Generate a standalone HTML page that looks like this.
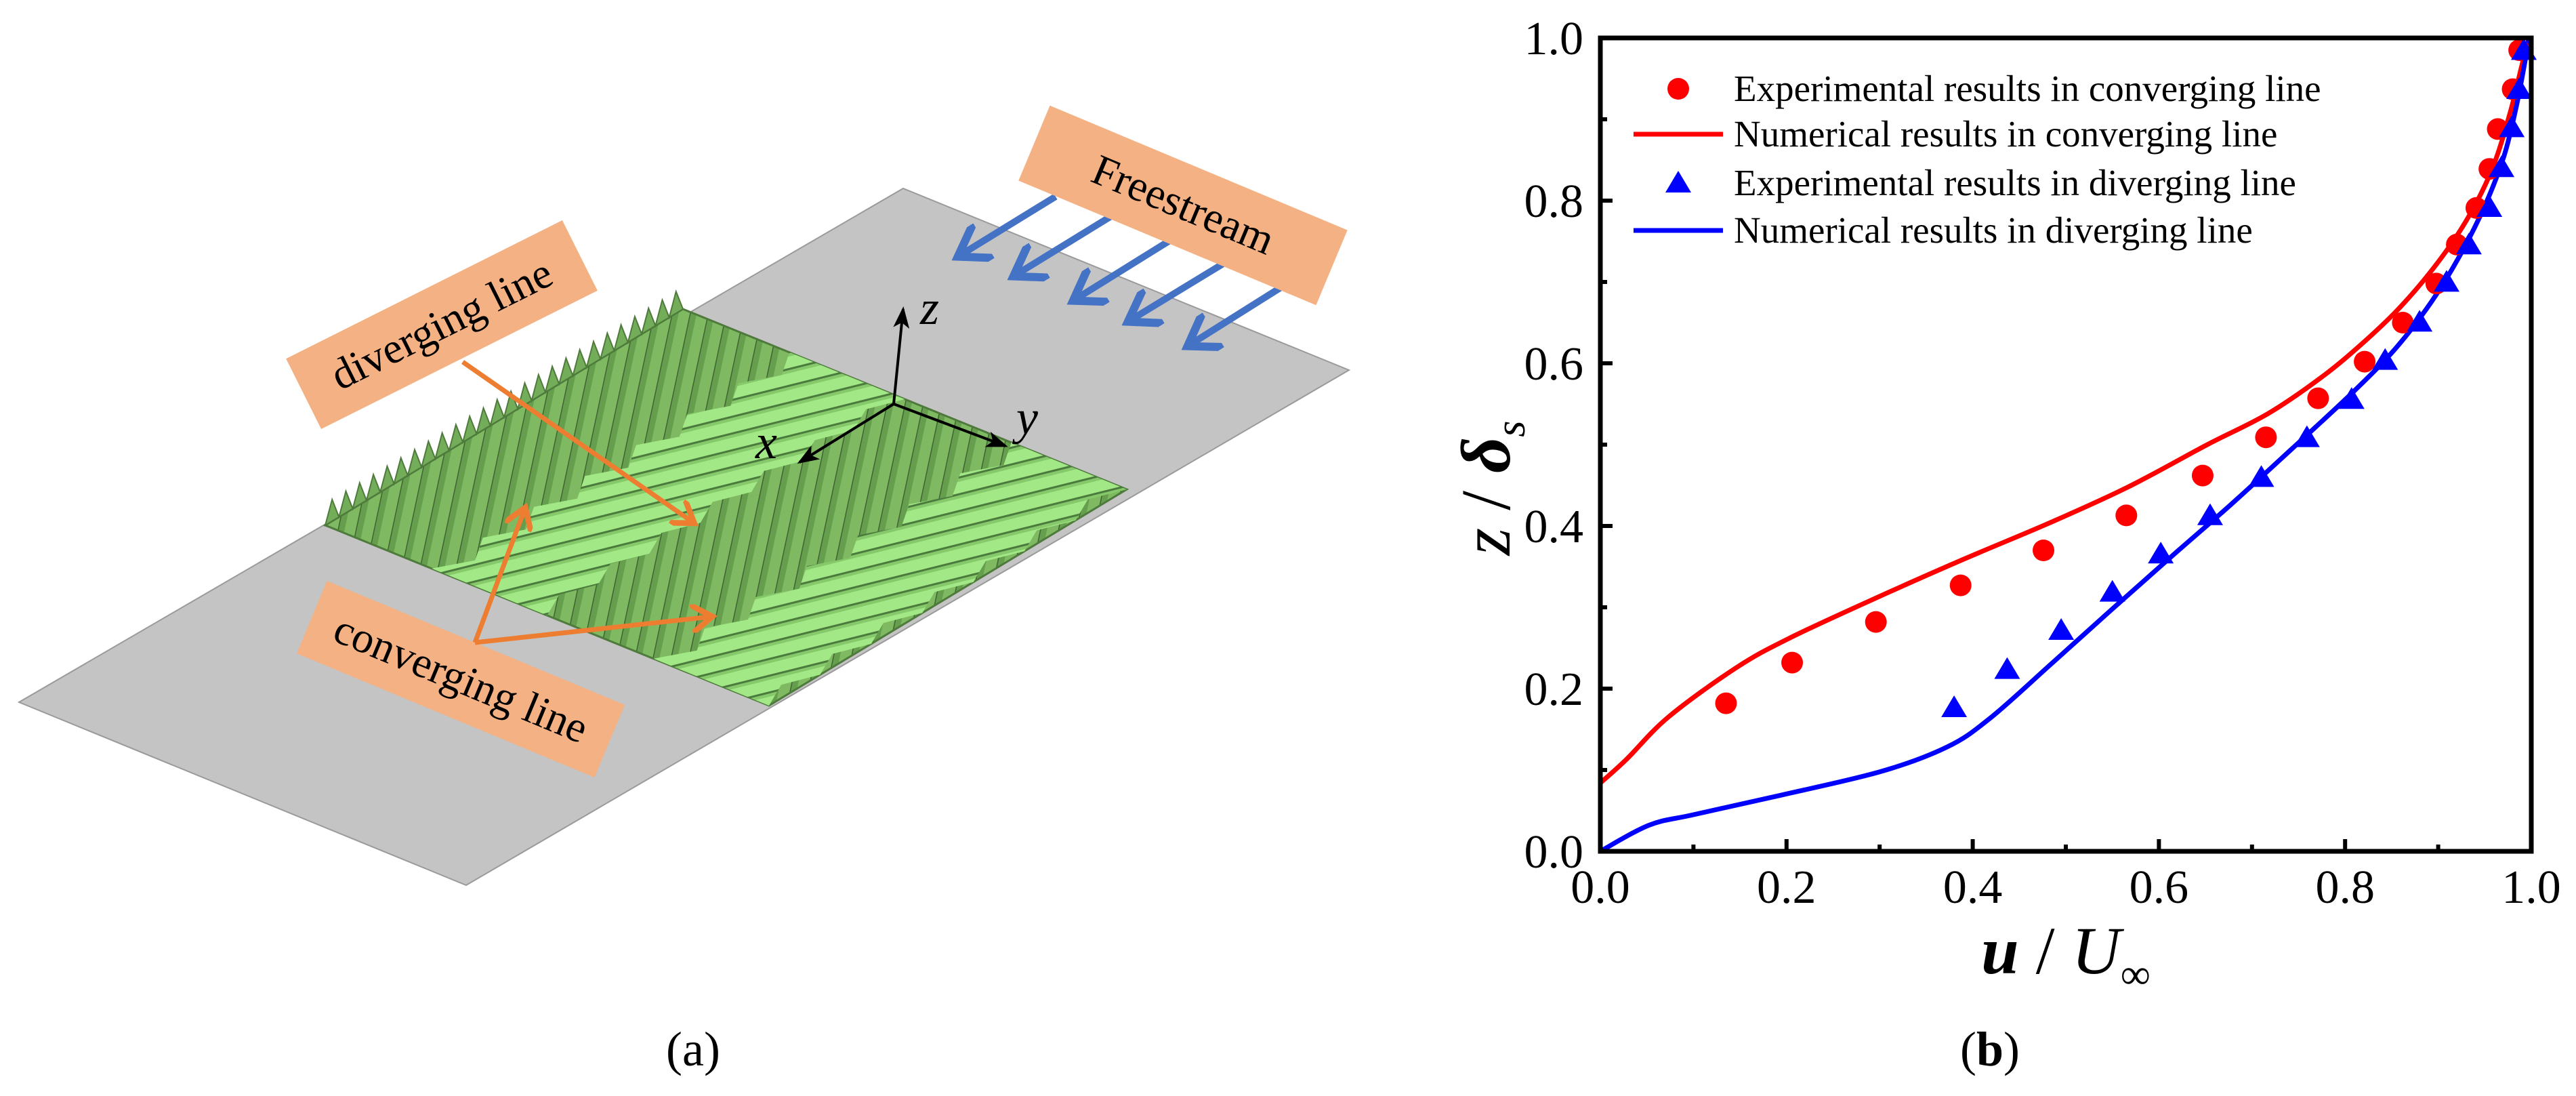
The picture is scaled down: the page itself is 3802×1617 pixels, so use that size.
<!DOCTYPE html>
<html><head><meta charset="utf-8"><style>
html,body{margin:0;padding:0;background:#fff;}
svg{display:block;font-family:"Liberation Serif",serif;}
</style></head><body>
<svg id="fig" width="3802" height="1617" viewBox="0 0 3802 1617">
<defs>
  <pattern id="darkRidges" patternUnits="userSpaceOnUse" width="26" height="40" patternTransform="rotate(12)">
    <rect width="26" height="40" fill="#7fba63"/>
    <rect width="10" height="40" fill="#659e4d"/>
    <line x1="0" y1="0" x2="0" y2="40" stroke="#3f6433" stroke-width="3"/>
  </pattern>
  <pattern id="lightStripes" patternUnits="userSpaceOnUse" width="40" height="24" patternTransform="rotate(-14)">
    <rect width="40" height="24" fill="#a3e886"/>
    <rect width="40" height="6" y="18" fill="#86c96b"/>
    <line x1="0" y1="18" x2="40" y2="18" stroke="#4a7a3c" stroke-width="3"/>
  </pattern>
  <marker id="arrO" markerWidth="6" markerHeight="6" refX="4" refY="3" orient="auto" markerUnits="strokeWidth"><path d="M0,0 L4.5,3 L0,6" fill="none" stroke="#ed7d31" stroke-width="1.2"/></marker>
  <marker id="arrB" markerWidth="6" markerHeight="6" refX="4" refY="3" orient="auto" markerUnits="strokeWidth"><path d="M0,0 L4.5,3 L0,6" fill="none" stroke="#4472c4" stroke-width="1.2"/></marker>
  <marker id="arrK" markerWidth="8" markerHeight="6" refX="7" refY="3" orient="auto" markerUnits="strokeWidth"><path d="M0,0 L8,3 L0,6 L2,3 Z" fill="#000"/></marker>
</defs>

<g id="panel-a">
  <polygon points="28,1036 688,1306 1991,546 1333,278" fill="#c4c4c4" stroke="#9a9a9a" stroke-width="2"/>
  <g id="band"></g>
  <g>
    <line x1="1319" y1="596" x2="1333" y2="456" stroke="#000" stroke-width="4" marker-end="url(#arrK)"/>
    <line x1="1319" y1="596" x2="1180" y2="682" stroke="#000" stroke-width="4" marker-end="url(#arrK)"/>
    <line x1="1319" y1="596" x2="1484" y2="658" stroke="#000" stroke-width="4" marker-end="url(#arrK)"/>
    <text x="1358" y="478" font-size="72" font-style="italic">z</text>
    <text x="1115" y="676" font-size="72" font-style="italic">x</text>
    <text x="1500" y="640" font-size="72" font-style="italic">y</text>
  </g>
  <g stroke="#4472c4" stroke-width="10" fill="none">
    <line x1="1558" y1="290" x2="1418" y2="376" marker-end="url(#arrB)"/>
    <line x1="1640" y1="319" x2="1500" y2="405" marker-end="url(#arrB)"/>
    <line x1="1728" y1="354" x2="1588" y2="441" marker-end="url(#arrB)"/>
    <line x1="1812" y1="385" x2="1669" y2="472" marker-end="url(#arrB)"/>
    <line x1="1897" y1="420" x2="1757" y2="508" marker-end="url(#arrB)"/>
  </g>
  <g transform="translate(1746,303) rotate(22.7)">
    <rect x="-238" y="-60" width="476" height="120" fill="#f4b183"/>
    <text x="0" y="20" font-size="64" text-anchor="middle">Freestream</text>
  </g>
  <g transform="translate(652,479) rotate(-26.6)">
    <rect x="-228" y="-58" width="456" height="116" fill="#f4b183"/>
    <text x="0" y="20" font-size="64" text-anchor="middle">diverging line</text>
  </g>
  <g transform="translate(680,1002) rotate(22.6)">
    <rect x="-238" y="-58" width="476" height="116" fill="#f4b183"/>
    <text x="0" y="20" font-size="64" text-anchor="middle">converging line</text>
  </g>
  <g stroke="#ed7d31" stroke-width="7" fill="none">
    <line x1="683" y1="534" x2="1022" y2="770" marker-end="url(#arrO)"/>
    <line x1="701" y1="948" x2="774" y2="752" marker-end="url(#arrO)"/>
    <line x1="701" y1="948" x2="1048" y2="910" marker-end="url(#arrO)"/>
  </g>
  <text x="1023" y="1572" font-size="72" text-anchor="middle">(a)</text>
</g>

<g id="chart">
  <g id="marks"></g>
  <rect x="2362" y="56" width="1374" height="1200" fill="none" stroke="#000" stroke-width="7"/>
  <g id="ticks"></g>
  <g font-size="55">
    <circle cx="2477" cy="131" r="16" fill="#ff0000"/>
    <text x="2559" y="149">Experimental results in converging line</text>
    <line x1="2411" y1="198" x2="2543" y2="198" stroke="#ff0000" stroke-width="7"/>
    <text x="2559" y="216">Numerical results in converging line</text>
    <polygon points="2477,252 2496,284 2458,284" fill="#0000ff"/>
    <text x="2559" y="288">Experimental results in diverging line</text>
    <line x1="2411" y1="340" x2="2543" y2="340" stroke="#0000ff" stroke-width="7"/>
    <text x="2559" y="358">Numerical results in diverging line</text>
  </g>
  <text x="3049" y="1436" font-size="100" text-anchor="middle"><tspan font-weight="bold" font-style="italic">u</tspan> / <tspan font-style="italic">U</tspan><tspan font-size="62" dy="22">∞</tspan></text>
  <text transform="translate(2228,720) rotate(-90)" font-size="104" text-anchor="middle"><tspan font-style="italic">z</tspan> / <tspan font-weight="bold" font-style="italic">δ</tspan><tspan font-size="62" font-style="italic" dy="22">s</tspan></text>
  <text x="2937" y="1572" font-size="72" text-anchor="middle">(<tspan font-weight="bold">b</tspan>)</text>
</g>
</svg>

<script>
const xTicks = [0.0, 0.2, 0.4, 0.6, 0.8, 1.0];
const yTicks = [0.0, 0.2, 0.4, 0.6, 0.8, 1.0];
const tickLabels = ["0.0", "0.2", "0.4", "0.6", "0.8", "1.0"];
const expConvU = [0.135,0.206,0.296,0.387,0.476,0.565,0.647,0.715,0.771,0.821,0.862,0.898,0.920,0.941,0.955,0.964,0.980,0.987];
const expConvZ = [0.182,0.232,0.282,0.327,0.370,0.413,0.462,0.509,0.557,0.602,0.650,0.698,0.746,0.791,0.839,0.888,0.937,0.985];
const expDivU = [0.380,0.437,0.495,0.550,0.602,0.655,0.710,0.759,0.807,0.843,0.880,0.909,0.933,0.955,0.968,0.979,0.987,0.992];
const expDivZ = [0.175,0.222,0.270,0.317,0.364,0.411,0.458,0.507,0.554,0.602,0.649,0.698,0.744,0.790,0.839,0.888,0.935,0.983];
const numConvU = [0.0,0.028,0.073,0.145,0.203,0.301,0.392,0.483,0.567,0.652,0.717,0.776,0.821,0.860,0.899,0.932,0.958,0.977,0.990,0.997];
const numConvZ = [0.084,0.113,0.165,0.225,0.262,0.314,0.360,0.404,0.448,0.500,0.538,0.584,0.627,0.670,0.723,0.779,0.839,0.907,0.967,0.997];
const numDivU = [0.0,0.052,0.100,0.190,0.301,0.372,0.418,0.483,0.548,0.613,0.678,0.743,0.808,0.854,0.893,0.925,0.951,0.971,0.984,0.994,0.997];
const numDivZ = [0.0,0.032,0.045,0.068,0.098,0.128,0.163,0.229,0.296,0.362,0.427,0.495,0.564,0.618,0.676,0.736,0.796,0.856,0.916,0.976,0.997];

const NS = "http://www.w3.org/2000/svg";
const X0 = 2362, X1 = 3736, Y0 = 1256, Y1 = 56;
function sx(v){ return X0 + v * (X1 - X0); }
function sy(v){ return Y0 - v * (Y0 - Y1); }
function mk(tag, attrs, parent){
  const e = document.createElementNS(NS, tag);
  for (const k in attrs) e.setAttribute(k, attrs[k]);
  parent.appendChild(e);
  return e;
}
const marks = document.getElementById('marks');
const ticks = document.getElementById('ticks');

function drawLine(us, zs, color, name){
  const p = us.map((u,i)=>[sx(u), sy(zs[i])]);
  let d = "M" + p[0][0].toFixed(1) + "," + p[0][1].toFixed(1);
  for (let i=0;i<p.length-1;i++){
    const p0 = p[Math.max(0,i-1)], p1 = p[i], p2 = p[i+1], p3 = p[Math.min(p.length-1,i+2)];
    const c1 = [p1[0]+(p2[0]-p0[0])/6, p1[1]+(p2[1]-p0[1])/6];
    const c2 = [p2[0]-(p3[0]-p1[0])/6, p2[1]-(p3[1]-p1[1])/6];
    d += "C"+c1[0].toFixed(1)+","+c1[1].toFixed(1)+" "+c2[0].toFixed(1)+","+c2[1].toFixed(1)+" "+p2[0].toFixed(1)+","+p2[1].toFixed(1);
  }
  const el = mk('path', {d:d, fill:'none', stroke:color, 'stroke-width':7, 'stroke-linejoin':'round'}, marks);
  
  
}
drawLine(numConvU, numConvZ, '#ff0000', 'numerical-converging-line');
drawLine(numDivU, numDivZ, '#0000ff', 'numerical-diverging-line');

expConvU.forEach((u,i)=>{
  const c = mk('circle', {cx:sx(u), cy:sy(expConvZ[i]), r:16, fill:'#ff0000'}, marks);
  
  
});
expDivU.forEach((u,i)=>{
  const x = sx(u), y = sy(expDivZ[i]);
  const t = mk('polygon', {points:`${x},${y-20} ${x+19},${y+12} ${x-19},${y+12}`, fill:'#0000ff'}, marks);
  
  
});

for (let i = 0; i <= 10; i++) {
  const v = i / 10, major = i % 2 === 0, len = major ? 18 : 10;
  const tx = mk('line', {x1:sx(v), x2:sx(v), y1:Y0, y2:Y0-len, stroke:'#000', 'stroke-width':6}, ticks);
  
  
  const ty = mk('line', {x1:X0, x2:X0+len, y1:sy(v), y2:sy(v), stroke:'#000', 'stroke-width':6}, ticks);
  
  
}
xTicks.forEach((v,i)=>{
  const t = mk('text', {x:sx(v), y:1332, 'font-size':70, 'text-anchor':'middle'}, ticks);
  t.textContent = tickLabels[i];
  
  
});
yTicks.forEach((v,i)=>{
  const t = mk('text', {x:2337, y:sy(v)+24, 'font-size':70, 'text-anchor':'end'}, ticks);
  t.textContent = tickLabels[i];
  
  
});

const band = document.getElementById('band');
const A=[480,775], B=[1135,1041], D=[1008,456];
function P(u,v){ return [A[0]+u*(B[0]-A[0])+v*(D[0]-A[0]), A[1]+u*(B[1]-A[1])+v*(D[1]-A[1])]; }
function poly(pts){ return pts.map(p=>p[0].toFixed(1)+","+p[1].toFixed(1)).join(" "); }
const base = mk('polygon', {points:poly([P(0,0),P(1,0),P(1,1),P(0,1)]), fill:'url(#darkRidges)', stroke:'#4e7a3c', 'stroke-width':3}, band);


[[0.24,0.5],[0.74,1.0]].forEach(r=>{
  const n = 14, pts = [];
  for (let k=0;k<=n;k++){ const v=k/n; pts.push(P(r[0]+((k%2)?0.04:0),v)); }
  for (let k=n;k>=0;k--){ const v=k/n; pts.push(P(r[1]-((k%2)?0.03:0),v)); }
  const s = mk('polygon', {points:poly(pts), fill:'url(#lightStripes)'}, band);
  
  
});
{
  const n = 26, pts = [P(0,0)];
  for (let k=0;k<n;k++){ const m = P(0,(k+0.5)/n); pts.push([m[0],m[1]-32]); pts.push(P(0,(k+1)/n)); }
  const s = mk('polygon', {points:poly(pts), fill:'#74ad59', stroke:'#4e7a3c', 'stroke-width':2}, band);
  
  
}
</script>
</body></html>
